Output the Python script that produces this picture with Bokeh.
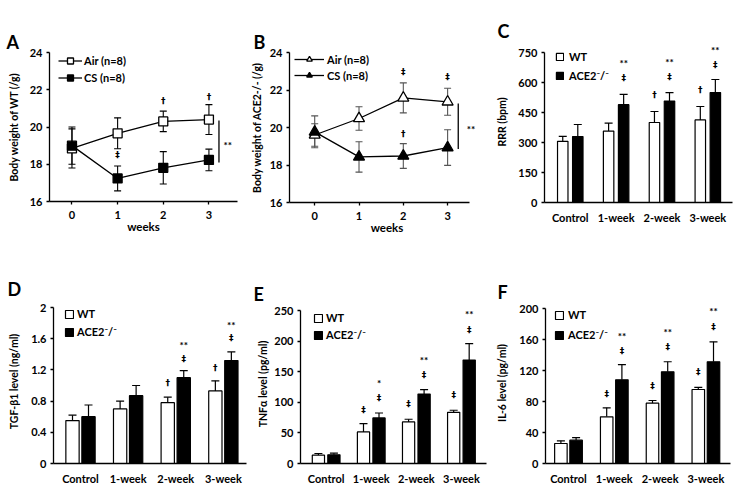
from bokeh.plotting import figure
from bokeh.models import (ColumnDataSource, Whisker, TeeHead, Legend, LegendItem,
                          LabelSet, FixedTicker, Range1d, LinearAxis)
from bokeh.layouts import column, row
from bokeh.core.properties import value
from bokeh.embed import file_html
from bokeh.resources import INLINE

FONT = "Lato"
SIG_FONT = "DejaVu Sans"

# ---------------- data ----------------
weeks = [0, 1, 2, 3]
weight_ticks = [16, 18, 20, 22, 24]

a_air = [18.85, 19.66, 20.30, 20.40]
a_air_err = [1.05, 0.83, 0.55, 0.80]
a_cs = [19.00, 17.24, 17.81, 18.23]
a_cs_err = [1.00, 0.67, 0.87, 0.58]
a_sig_x = [1, 2, 3]
a_sig_y = [18.48, 21.42, 21.60]
a_sig_t = ["\u2021", "\u2020", "\u2020"]
a_bracket = [3.22, 20.35, 18.10]
a_star = [3.41, 19.14]

b_air = [19.60, 20.48, 21.58, 21.37]
b_air_err = [0.60, 0.63, 0.80, 0.72]
b_cs = [19.77, 18.43, 18.48, 18.93]
b_cs_err = [0.85, 0.81, 0.66, 0.95]
b_sig_x = [2, 3, 2]
b_sig_y = [22.97, 22.67, 19.68]
b_sig_t = ["\u2021", "\u2021", "\u2020"]
b_bracket = [3.24, 21.28, 18.85]
b_star = [3.53, 20.05]

cats = ["Control", "1-week", "2-week", "3-week"]

c_wt = [306, 357, 400, 413]
c_wt_err = [25, 40, 55, 67]
c_ko = [330, 489, 507, 550]
c_ko_err = [60, 52, 42, 65]
c_ticks = [0, 150, 300, 450, 600, 750]
c_sig_cat = [2, 3, 1, 1, 2, 2, 3, 3]
c_sig_ser = ["WT", "WT", "KO", "KO", "KO", "KO", "KO", "KO"]
c_sig_y = [539, 564, 623, 706, 628, 711, 686, 773]
c_sig_t = ["\u2020", "\u2020", "\u2021", "**", "\u2021", "**", "\u2021", "**"]

d_wt = [0.55, 0.70, 0.78, 0.93]
d_wt_err = [0.07, 0.10, 0.07, 0.13]
d_ko = [0.60, 0.87, 1.10, 1.32]
d_ko_err = [0.15, 0.13, 0.09, 0.11]
d_ticks = [0, 0.4, 0.8, 1.2, 1.6, 2]
d_tick_labels = ["0", "0.4", "0.8", "1.2", "1.6", "2"]
d_sig_cat = [2, 3, 2, 2, 3, 3]
d_sig_ser = ["WT", "WT", "KO", "KO", "KO", "KO"]
d_sig_y = [1.03, 1.23, 1.345, 1.54, 1.61, 1.80]
d_sig_t = ["\u2020", "\u2020", "\u2021", "**", "\u2021", "**"]

e_wt = [13.6, 51.6, 67.9, 83.7]
e_wt_err = [2.7, 13.6, 4.4, 3.3]
e_ko = [14.1, 74.5, 113.6, 169.0]
e_ko_err = [2.7, 8.0, 7.0, 27.0]
e_ticks = [0, 50, 100, 150, 200, 250]
e_sig_cat = [1, 2, 3, 1, 1, 2, 2, 3, 3]
e_sig_ser = ["WT", "WT", "WT", "KO", "KO", "KO", "KO", "KO", "KO"]
e_sig_y = [87, 96.7, 112.5, 107, 134, 145, 172, 218.5, 247]
e_sig_t = ["\u2021", "\u2021", "\u2021", "\u2021", "*", "\u2021", "**", "\u2021", "**"]

f_wt = [25.8, 60.2, 77.8, 95.5]
f_wt_err = [3.4, 11.6, 3.5, 2.6]
f_ko = [30.1, 108.0, 118.3, 131.2]
f_ko_err = [3.4, 19.7, 13.0, 25.8]
f_ticks = [0, 40, 80, 120, 160, 200]
f_sig_cat = [1, 2, 3, 1, 1, 2, 2, 3, 3]
f_sig_ser = ["WT", "WT", "WT", "KO", "KO", "KO", "KO", "KO", "KO"]
f_sig_y = [89.5, 99.8, 118.3, 145, 167.7, 149.7, 172, 176.3, 199]
f_sig_t = ["\u2021", "\u2021", "\u2021", "\u2021", "**", "\u2021", "**", "\u2021", "**"]

LETTER_PX = 18
LETTER_DESCENT = 4


# ---------------- helpers ----------------
def base_fig(letter, geo):
    # W, H, borders, data ranges, extra px above / right, (letter x offset, letter baseline)
    W, H, L, R, T, B, xr, yr, ext_t, ext_r, let = geo
    fh = H - T - B
    fw = W - L - R
    ytop = yr[1] + ext_t * (yr[1] - yr[0]) / fh
    xend = xr[1] + ext_r * (xr[1] - xr[0]) / fw
    top = T - ext_t
    p = figure(width=W, height=H, x_range=Range1d(xr[0], xend), y_range=Range1d(yr[0], ytop),
               output_backend="svg", toolbar_location=None, frame_align=False,
               min_border_left=L, min_border_right=R - ext_r,
               min_border_top=top, min_border_bottom=B)
    p.grid.visible = False
    p.outline_line_color = None
    p.background_fill_color = "white"
    p.border_fill_color = "white"
    p.xaxis.bounds = xr
    p.yaxis.bounds = yr
    for ax in p.axis:
        ax.axis_line_color = "black"
        ax.axis_line_width = 1.3
        ax.major_tick_line_color = "black"
        ax.major_tick_line_width = 1.3
        ax.major_tick_in = 0
        ax.major_tick_out = 3
        ax.minor_tick_line_color = None
        ax.major_label_text_font = FONT
        ax.major_label_text_font_style = "bold"
        ax.major_label_text_font_size = "11px"
        ax.major_label_text_color = "black"
        ax.major_label_standoff = 4
        ax.axis_label_text_font = FONT
        ax.axis_label_text_font_style = "bold"
        ax.axis_label_text_font_size = "10.5px"
        ax.axis_label_text_color = "black"
    # empty spacer between the panel letter (title) and the plot frame
    gap = int(round(top - (let[1] + LETTER_DESCENT)))
    p.add_layout(LinearAxis(ticker=FixedTicker(ticks=[]), axis_line_color=None,
                            major_tick_line_color=None, minor_tick_line_color=None,
                            major_tick_in=0, major_tick_out=gap, minor_tick_in=0,
                            minor_tick_out=0, major_label_standoff=0), "above")
    p.title.text = letter
    p.title.align = "left"
    p.title.offset = let[0]
    p.title.standoff = 0
    p.title.text_font = FONT
    p.title.text_font_style = "bold"
    p.title.text_font_size = f"{LETTER_PX}px"
    p.title.text_color = "black"
    return p


def sig_labels(p, xs, ys, ts):
    for star in (False, True):
        sel = [i for i, t in enumerate(ts) if ("*" in t) == star]
        if not sel:
            continue
        src = ColumnDataSource(dict(x=[xs[i] for i in sel], y=[ys[i] for i in sel],
                                    t=[ts[i] for i in sel]))
        p.add_layout(LabelSet(x="x", y="y", text="t", source=src,
                              y_offset=-2 if star else 0,
                              text_font=value(FONT if star else SIG_FONT),
                              text_font_style="bold",
                              text_font_size="10px" if star else "9px",
                              text_color="black",
                              text_align="center", text_baseline="middle"))


def line_panel(letter, ylabel, air, air_err, cs, cs_err, marker, msize,
               sig_x, sig_y, sig_t, bracket, star, err_color, geo, ylab_off, leg):
    p = base_fig(letter, geo)
    xax = p.below[0]
    xax.ticker = FixedTicker(ticks=weeks)
    xax.axis_label = "weeks"
    xax.axis_label_text_font_size = "11.5px"
    xax.major_label_standoff = 6
    xax.axis_label_standoff = -2
    p.yaxis.ticker = FixedTicker(ticks=weight_ticks)
    p.yaxis.axis_label = ylabel
    p.yaxis.axis_label_standoff = ylab_off

    for vals, errs in ((air, air_err), (cs, cs_err)):
        src = ColumnDataSource(dict(x=weeks, lo=[v - e for v, e in zip(vals, errs)],
                                    hi=[v + e for v, e in zip(vals, errs)]))
        p.add_layout(Whisker(source=src, base="x", lower="lo", upper="hi",
                             line_color=err_color, line_width=1.1, level="underlay",
                             upper_head=TeeHead(size=7, line_color=err_color, line_width=1.1),
                             lower_head=TeeHead(size=7, line_color=err_color, line_width=1.1)))

    l1 = p.line(weeks, air, line_color="black", line_width=1.3)
    l2 = p.line(weeks, cs, line_color="black", line_width=1.3)
    s1 = p.scatter(weeks, air, marker=marker, size=msize, fill_color="white",
                   line_color="black", line_width=1.3)
    s2 = p.scatter(weeks, cs, marker=marker, size=msize, fill_color="black",
                   line_color="black", line_width=1.3)

    p.segment(x0=[bracket[0]], y0=[bracket[1]], x1=[bracket[0]], y1=[bracket[2]],
              line_color="black", line_width=1.3)
    sig_labels(p, sig_x + [star[0]], sig_y + [star[1]], sig_t + ["**"])

    lx, ly, row_h, spacing, gw, stand = leg
    p.add_layout(Legend(items=[LegendItem(label="Air (n=8)", renderers=[l1, s1]),
                               LegendItem(label="CS (n=8)", renderers=[l2, s2])],
                        location=(lx, ly), border_line_color=None, background_fill_alpha=0,
                        padding=0, margin=0, spacing=spacing, label_height=row_h,
                        glyph_height=row_h, glyph_width=gw, label_standoff=stand,
                        label_text_font=FONT, label_text_font_style="bold",
                        label_text_font_size="11px", label_text_color="black"))
    return p


def bar_panel(letter, ylabel, wt, wt_err, ko, ko_err, yticks, sig_cat, sig_ser, sig_y,
              sig_t, geo, off, bw, ylab_off, leg, tick_labels=None):
    p = base_fig(letter, geo)
    idx = list(range(len(cats)))
    xax = p.below[0]
    xax.ticker = FixedTicker(ticks=idx)
    xax.major_label_overrides = {i: c for i, c in zip(idx, cats)}
    xax.major_tick_out = 0
    xax.major_label_standoff = 8
    p.yaxis.ticker = FixedTicker(ticks=yticks)
    if tick_labels:
        p.yaxis.major_label_overrides = {t: s for t, s in zip(yticks, tick_labels)}
    p.yaxis.axis_label = ylabel
    p.yaxis.axis_label_standoff = ylab_off

    xw = [i - off for i in idx]
    xk = [i + off for i in idx]
    rw = p.vbar(x=xw, top=wt, width=bw, fill_color="white", line_color="black", line_width=1.2)
    rk = p.vbar(x=xk, top=ko, width=bw, fill_color="black", line_color="black", line_width=1.2)
    for xs, vals, errs in ((xw, wt, wt_err), (xk, ko, ko_err)):
        src = ColumnDataSource(dict(x=xs, lo=vals, hi=[v + e for v, e in zip(vals, errs)]))
        p.add_layout(Whisker(source=src, base="x", lower="lo", upper="hi",
                             line_color="black", line_width=1.2, lower_head=None,
                             upper_head=TeeHead(size=8, line_color="black", line_width=1.2)))

    sx = [c - off if s == "WT" else c + off for c, s in zip(sig_cat, sig_ser)]
    sig_labels(p, sx, sig_y, sig_t)

    lx, ly, row_h, spacing, gw, gh, stand = leg
    p.add_layout(Legend(items=[LegendItem(label="WT", renderers=[rw]),
                               LegendItem(label="ACE2\u207b/\u207b", renderers=[rk])],
                        location=(lx, ly), border_line_color=None, background_fill_alpha=0,
                        padding=0, margin=0, spacing=spacing, label_height=row_h,
                        glyph_height=gh, glyph_width=gw, label_standoff=stand,
                        label_text_font=FONT, label_text_font_style="bold",
                        label_text_font_size="11px", label_text_color="black"))
    return p


# ---------------- panels ----------------
pA = line_panel("A", "Body weight of WT (/g)", a_air, a_air_err, a_cs, a_cs_err,
                "square", 9, a_sig_x, a_sig_y, a_sig_t, a_bracket, a_star, "black",
                (244, 244, 49, 7, 52, 43, (-0.492, 3.626), (16, 24), 0, 0, (-43, 20)), 7,
                (9, 116, 15, 2, 24, 2))
pB = line_panel("B", "Body weight of ACE2-/- (/g)", b_air, b_air_err, b_cs, b_cs_err,
                "triangle", 11, b_sig_x, b_sig_y, b_sig_t, b_bracket, b_star, "#555555",
                (242, 244, 45, 17, 52, 42, (-0.569, 3.494), (16, 24), 0, 15, (-36, 20)), 4,
                (5, 120, 14, 2, 30, 3))
pC = bar_panel("C", "RRR (bpm)", c_wt, c_wt_err, c_ko, c_ko_err, c_ticks,
               c_sig_cat, c_sig_ser, c_sig_y, c_sig_t,
               (249, 244, 58, 3, 52, 42, (-0.562, 3.538), (0, 750), 11, 0, (-47, 20)),
               0.164, 0.228, 7, (11, 120, 13, 6, 9, 9, 5))
pD = bar_panel("D", "TGF-\u03b21 level (ng/ml)", d_wt, d_wt_err, d_ko, d_ko_err, d_ticks,
               d_sig_cat, d_sig_ser, d_sig_y, d_sig_t,
               (247, 246, 53, 1, 63, 27, (-0.567, 3.486), (0, 2), 8, 0, (-46, 23)),
               0.168, 0.279, 8, (11, 125, 13, 5, 10, 10, 3), tick_labels=d_tick_labels)
pE = bar_panel("E", "TNF\u03b1 level (pg/ml)", e_wt, e_wt_err, e_ko, e_ko_err, e_ticks,
               e_sig_cat, e_sig_ser, e_sig_y, e_sig_t,
               (240, 246, 53, 1, 66, 27, (-0.569, 3.556), (0, 250), 6, 0, (-47, 23)),
               0.172, 0.271, 2, (13, 122, 13, 4, 10, 10, 3))
pF = bar_panel("F", "IL-6 level (pg/ml)", f_wt, f_wt_err, f_ko, f_ko_err, f_ticks,
               f_sig_cat, f_sig_ser, f_sig_y, f_sig_t,
               (248, 246, 58, 5, 64, 27, (-0.502, 3.537), (0, 200), 6, 0, (-48, 23)),
               0.166, 0.273, 8, (9, 122, 13, 7, 10, 10, 4))

layout = column(row(pA, pB, pC), row(pD, pE, pF))
open("out.html", "w").write(file_html(layout, INLINE))
